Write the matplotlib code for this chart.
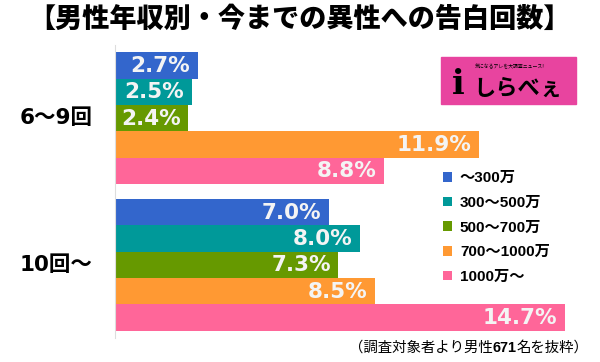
import matplotlib
matplotlib.use("Agg")
import matplotlib.pyplot as plt
from matplotlib.patches import Rectangle

plt.rcParams['font.family'] = ['Liberation Sans', 'Noto Sans CJK JP', 'DejaVu Sans']

title = "【男性年収別・今までの異性への告白回数】"
groups = ["6〜9回", "10回〜"]
series = ["〜300万", "300〜500万", "500〜700万", "700〜1000万", "1000万〜"]
values = [
    [2.7, 2.5, 2.4, 11.9, 8.8],
    [7.0, 8.0, 7.3, 8.5, 14.7],
]
colors = ["#3366cc", "#009999", "#669900", "#ff9933", "#ff6699"]
note = ["（調査対象者より男性", "671", "名を抜粋）"]

fig = plt.figure(figsize=(6, 3.62), dpi=100)
ax = fig.add_axes([115/600, 24/362, 475/600, 293/362])

gstep = 5.57
for j, name in enumerate(series):
    ys = [i * gstep + j for i in range(len(groups))]
    vs = [values[i][j] for i in range(len(groups))]
    ax.barh(ys, vs, height=1.0, align='edge', color=colors[j], label=name)
    for y, v in zip(ys, vs):
        ax.text(v - 0.25, y + 0.52, f"{v:.1f}%", ha='right', va='center',
                color='#f4f4f4', fontsize=15.5, fontweight='bold',
                family=['DejaVu Sans'])

ax.set_xlim(0, 475/30.6)
ax.set_ylim(gstep + 5 + 0.28, -0.28)
for s in ['top', 'right', 'bottom']:
    ax.spines[s].set_visible(False)
ax.spines['left'].set_color('#dddddd')
ax.set_xticks([])
ax.set_yticks([])

for i, g in enumerate(groups):
    yc = i * gstep + 2.5
    ax.text(-95/30.6, yc, g, ha='left', va='center', fontsize=15.5,
            fontweight='bold', family=['DejaVu Sans', 'Noto Sans CJK JP'])

fig.text(0.5, 1 - 19/362, title, ha='center', va='center', fontsize=19.5,
         fontweight=900, family=['Noto Sans CJK JP'])

leg = ax.legend(loc='upper left', bbox_to_anchor=(437/600, 1 - 165/362),
                bbox_transform=fig.transFigure, frameon=False,
                prop={'weight': 'bold', 'size': 11,
                      'family': ['Liberation Sans', 'Noto Sans CJK JP']},
                handlelength=0.6, handleheight=0.6, handletextpad=0.5,
                labelspacing=0.7, borderaxespad=0)

# logo
fig.patches.append(Rectangle((441/600, 1 - 104/362), 135/600, 47/362,
                             transform=fig.transFigure, color='#e8449f'))
fig.text(510/600, 1 - 67/362, "気になるアレを大調査ニュース!", ha='center',
         va='center', fontsize=3.5, family=['Noto Sans CJK JP'])
fig.text(458/600, 1 - 84/362, "i", ha='center', va='center', fontsize=24,
         fontweight='bold', family=['DejaVu Serif'])
fig.text(518/600, 1 - 88/362, "しらべぇ", ha='center', va='center', fontsize=16,
         fontweight='bold', family=['Noto Sans CJK JP'])

t1 = fig.text(349/600, 1 - 348/362, note[0], ha='left', va='center',
              fontsize=10.4, family=['Noto Sans CJK JP'])
t2 = ax.annotate(note[1], xy=(1, 0.5), xycoords=t1, ha='left', va='center',
                 fontsize=10.4, fontweight='bold', family=['Liberation Sans'])
ax.annotate(note[2], xy=(1, 0.5), xycoords=t2, ha='left', va='center',
            fontsize=10.4, family=['Noto Sans CJK JP'])

fig.savefig("out.png", dpi=100)
